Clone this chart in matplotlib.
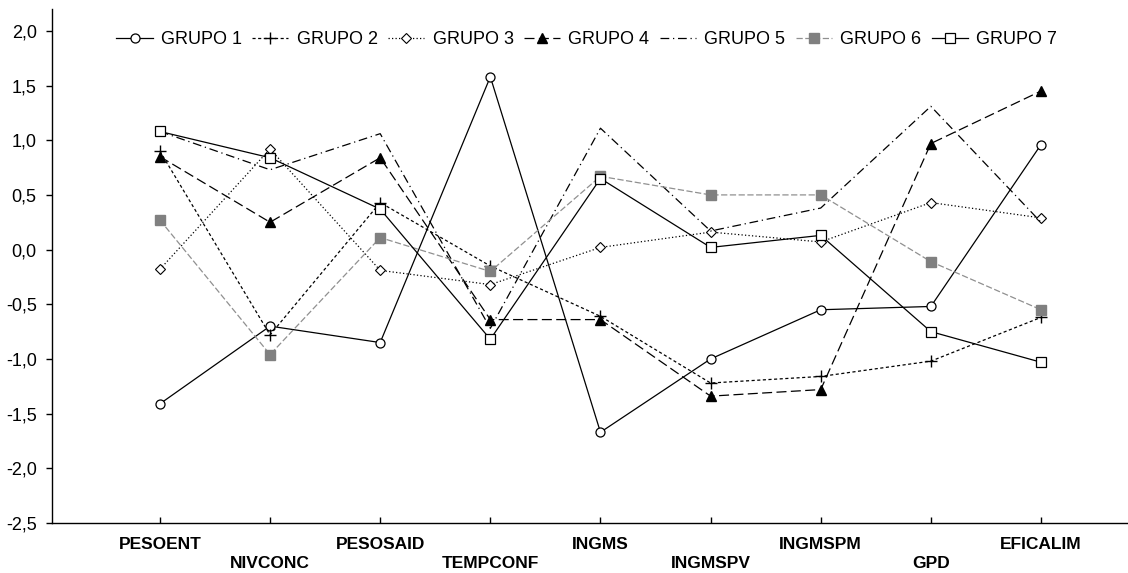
import matplotlib
matplotlib.use('Agg')
import matplotlib.pyplot as plt

variables = ['PESOENT', 'NIVCONC', 'PESOSAID', 'TEMPCONF', 'INGMS',
             'INGMSPV', 'INGMSPM', 'GPD', 'EFICALIM']

grupo1 = [-1.41, -0.70, -0.85, 1.58, -1.67, -1.00, -0.55, -0.52, 0.96]
grupo2 = [0.90, -0.78, 0.43, -0.15, -0.61, -1.22, -1.16, -1.02, -0.62]
grupo3 = [-0.18, 0.92, -0.19, -0.32, 0.02, 0.16, 0.07, 0.43, 0.29]
grupo4 = [0.85, 0.25, 0.84, -0.64, -0.64, -1.34, -1.28, 0.97, 1.45]
grupo5 = [1.08, 0.73, 1.06, -0.72, 1.11, 0.17, 0.38, 1.31, 0.25]
grupo6 = [0.27, -0.96, 0.11, -0.20, 0.67, 0.50, 0.50, -0.11, -0.55]
grupo7 = [1.08, 0.84, 0.37, -0.82, 0.65, 0.02, 0.13, -0.75, -1.03]

plt.rcParams['font.family'] = ['Liberation Sans', 'DejaVu Sans']

fig = plt.figure(figsize=(11.28, 5.73), dpi=100)
ax = fig.add_axes([52 / 1128, 50 / 573, 1076 / 1128, 514 / 573])
x = list(range(len(variables)))

lw = 0.9
ax.plot(x, grupo1, color='black', lw=lw, marker='o', ms=6.5,
        mfc='white', mec='black', mew=0.9, label='GRUPO 1')
ax.plot(x, grupo2, color='black', lw=lw, dashes=(2.5, 2), marker='+',
        ms=9, mew=1, label='GRUPO 2')
ax.plot(x, grupo3, color='black', lw=lw, dashes=(1, 1.8), marker='D',
        ms=5, mfc='white', mec='black', mew=0.8, label='GRUPO 3')
ax.plot(x, grupo4, color='black', lw=lw, dashes=(8, 3.5), marker='^',
        ms=7.5, mfc='black', mec='black', label='GRUPO 4')
ax.plot(x, grupo5, color='black', lw=lw, dashes=(7, 3, 1, 3),
        label='GRUPO 5')
ax.plot(x, grupo6, color='#909090', lw=lw, dashes=(5, 2), marker='s',
        ms=7, mfc='#808080', mec='#808080', label='GRUPO 6')
ax.plot(x, grupo7, color='black', lw=lw, marker='s', ms=7.5,
        mfc='white', mec='black', mew=0.9, label='GRUPO 7')

ax.set_xlim(-0.98, 8.79)
ax.set_ylim(-2.5, 2.2)
ax.set_yticks([-2.5, -2.0, -1.5, -1.0, -0.5, 0.0, 0.5, 1.0, 1.5, 2.0])
ax.set_yticklabels(['{:.1f}'.format(v).replace('.', ',')
                    for v in ax.get_yticks()], fontsize=13)
ax.set_xticks(x)
ax.set_xticklabels([v if i % 2 == 0 else '\n' + v
                    for i, v in enumerate(variables)],
                   fontsize=12.5, fontweight='bold')
for lab in ax.get_xticklabels():
    lab.set_linespacing(1.35)

ax.spines['top'].set_visible(False)
ax.spines['right'].set_visible(False)
ax.spines['left'].set_linewidth(1)
ax.spines['bottom'].set_linewidth(1)
ax.tick_params(axis='y', direction='out', length=4, width=1, pad=7)
ax.tick_params(axis='x', direction='in', length=4, width=1, pad=10)

ax.legend(loc='center', bbox_to_anchor=(0.497, 0.94), ncol=7,
          frameon=False, fontsize=13, handlelength=2.0,
          handletextpad=0.45, columnspacing=0.59)

fig.savefig('out.png', dpi=100)
